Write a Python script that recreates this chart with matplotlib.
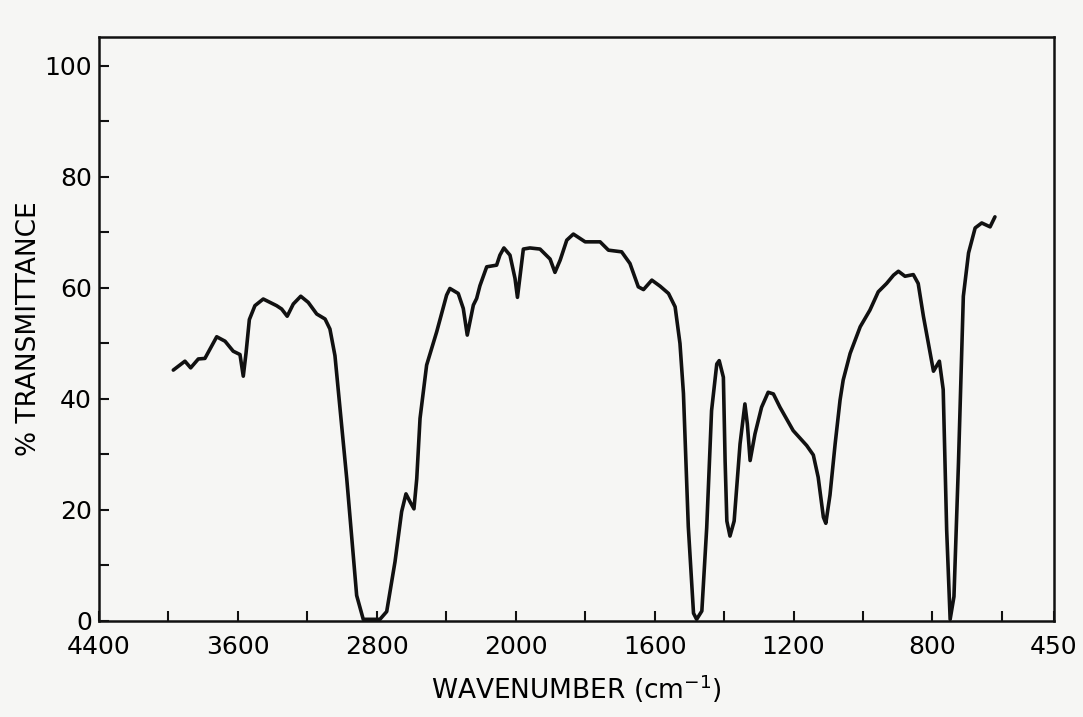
#IR spectrum, % transmittance vs wavenumber
import numpy as np
import matplotlib
matplotlib.use("Agg")
import matplotlib.pyplot as plt
from matplotlib.ticker import FixedLocator

#data
wavenumber = [3972, 3905, 3872, 3828, 3790, 3722, 3674, 3627, 3588, 3569,
              3553, 3534, 3502, 3454, 3377, 3348, 3316, 3281, 3238, 3195,
              3146, 3098, 3070, 3041, 2973, 2916, 2878, 2782, 2743, 2695,
              2657, 2632, 2609, 2586, 2570, 2551, 2513, 2455, 2398, 2379,
              2331, 2302, 2279, 2244, 2225, 2206, 2167, 2110, 2091, 2068,
              2033, 2004, 1995, 1988, 1978, 1959, 1930, 1901, 1887, 1872,
              1853, 1834, 1800, 1757, 1733, 1695, 1671, 1647, 1632, 1608,
              1584, 1560, 1541, 1527, 1517, 1503, 1488, 1479, 1464, 1450,
              1436, 1421, 1414, 1402, 1397, 1392, 1383, 1371, 1354, 1340,
              1333, 1325, 1311, 1292, 1273, 1258, 1239, 1201, 1162, 1143,
              1129, 1114, 1107, 1095, 1080, 1066, 1057, 1037, 1008, 980,
              956, 932, 912, 898, 879, 855, 841, 826, 812, 797,
              780, 769, 759, 749, 738, 725, 711, 696, 677, 658,
              634, 620]
transmittance = [45.2, 46.8, 45.6, 47.2, 47.3, 51.2, 50.4, 48.6, 48.0, 44.1,
                 48.3, 54.3, 56.8, 58.0, 56.8, 56.2, 54.9, 57.1, 58.5, 57.4,
                 55.3, 54.4, 52.6, 47.8, 25.6, 4.6, 0.3, 0.3, 1.7, 10.7,
                 19.7, 22.9, 21.5, 20.2, 25.6, 36.5, 46.1, 52.1, 58.7, 59.9,
                 59.0, 56.3, 51.5, 56.9, 58.1, 60.4, 63.8, 64.1, 65.9, 67.2,
                 65.9, 61.7, 58.3, 61.9, 67.0, 67.2, 67.0, 65.2, 62.8, 65.0,
                 68.6, 69.7, 68.3, 68.3, 66.8, 66.5, 64.4, 60.2, 59.7, 61.4,
                 60.3, 59.0, 56.6, 50.0, 41.0, 17.0, 1.4, 0.3, 1.8, 16.8,
                 37.9, 46.3, 46.9, 43.9, 28.8, 18.0, 15.3, 18.0, 31.9, 39.1,
                 35.5, 28.9, 33.7, 38.5, 41.2, 40.9, 38.5, 34.3, 31.6, 29.9,
                 25.9, 18.7, 17.6, 22.7, 32.0, 39.8, 43.4, 48.2, 53.0, 56.0,
                 59.3, 60.8, 62.3, 63.0, 62.1, 62.4, 60.8, 54.9, 50.1, 45.0,
                 46.8, 41.7, 16.4, 0.3, 4.4, 28.5, 58.5, 66.3, 70.8, 71.7,
                 71.0, 72.8]

x_labeled = [4400, 3600, 2800, 2000, 1600, 1200, 800, 450]
x_minor = [4000, 3200, 2400, 1800, 1400, 1000, 600]
y_labeled = [0, 20, 40, 60, 80, 100]
y_minor = [10, 30, 50, 70, 90]


#scale changes at 2000 cm-1 (below it the axis is stretched x2)
def fwd(w):
    w = np.asarray(w, dtype=float)
    return np.where(w >= 2000, w, 2 * w - 2000)


def inv(u):
    u = np.asarray(u, dtype=float)
    return np.where(u >= 2000, u, (u + 2000) / 2)


bg = '#f6f6f4'
fig = plt.figure(figsize=(10.83, 7.17), dpi=100, facecolor=bg)
ax = fig.add_axes([0.0914, 0.1339, 0.8818, 0.8145])
ax.set_facecolor(bg)

ax.set_xscale('function', functions=(fwd, inv))
ax.plot(wavenumber, transmittance, color='#111111', lw=2.6,
        solid_joinstyle='round', solid_capstyle='round')
ax.set_xlim(4400, 450)
ax.set_ylim(0, 105.2)

ax.xaxis.set_major_locator(FixedLocator(x_labeled))
ax.xaxis.set_minor_locator(FixedLocator(x_minor))
ax.set_xticklabels([str(v) for v in x_labeled])
ax.yaxis.set_major_locator(FixedLocator(y_labeled))
ax.yaxis.set_minor_locator(FixedLocator(y_minor))

for s in ax.spines.values():
    s.set_linewidth(1.8)
    s.set_color('#111111')

ax.tick_params(which='both', direction='in', length=7, width=1.5, color='#111111')
ax.tick_params(axis='x', which='major', pad=10, labelsize=18)
ax.tick_params(axis='y', which='major', pad=5, labelsize=18)

ax.set_xlabel('WAVENUMBER (cm$^{-1}$)', fontsize=19, labelpad=10)
ax.set_ylabel('% TRANSMITTANCE', fontsize=19, labelpad=2)

fig.savefig('out.png', dpi=100, facecolor=bg)
